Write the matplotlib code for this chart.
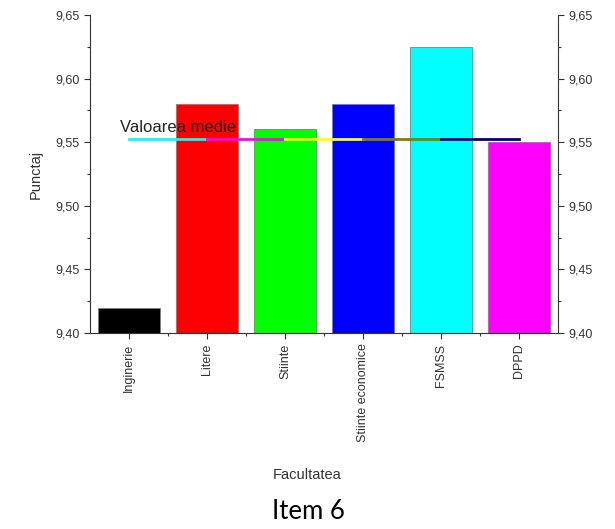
import matplotlib.pyplot as plt
import numpy as np
from matplotlib.ticker import FuncFormatter, MultipleLocator, FixedLocator

plt.rcParams['font.family'] = ['Liberation Sans', 'DejaVu Sans']

facultati = ['Inginerie', 'Litere', 'Stiinte', 'Stiinte economice', 'FSMSS', 'DPPD']
punctaj = [9.42, 9.58, 9.56, 9.58, 9.625, 9.55]
culori = ['black', 'red', '#00ff00', 'blue', 'cyan', 'magenta']
culori_medie = ['cyan', 'magenta', 'yellow', '#808000', '#000080']

x = np.arange(1, len(facultati) + 1)
medie = np.mean(punctaj)

fig = plt.figure(figsize=(6.15, 5.29), dpi=100)
ax = fig.add_axes([0.1463, 0.3705, 0.7610, 0.6011])

ax.bar(x, np.array(punctaj) - 9.40, bottom=9.40, width=0.8, color=culori,
       edgecolor='#808080', linewidth=0.6, zorder=2)

# linia mediei, pe segmente colorate
for i in range(len(x) - 1):
    ax.plot([x[i], x[i + 1]], [medie, medie], color=culori_medie[i], lw=2, zorder=3)
ax.text(0.88, medie + 0.0055, 'Valoarea medie', fontsize=12, color='#222222', zorder=4)

ax.set_xlim(0.5, 6.5)
ax.set_ylim(9.40, 9.65)
ax.set_xticks(x)
ax.set_xticklabels(facultati, rotation=90)
ax.xaxis.set_minor_locator(FixedLocator(np.arange(1.5, 6.5, 1)))

ax.yaxis.set_major_locator(MultipleLocator(0.05))
ax.yaxis.set_minor_locator(MultipleLocator(0.025))
fmt = FuncFormatter(lambda v, p: f'{v:.2f}'.replace('.', ','))
ax.yaxis.set_major_formatter(fmt)
ax.tick_params(axis='both', which='major', labelsize=9, length=4, width=0.8, colors='#333333', labelcolor='#333333')
ax.tick_params(axis='both', which='minor', length=2.5, width=0.8, colors='#333333')
ax.tick_params(axis='y', right=True, labelright=True, which='both')

ax.spines['top'].set_visible(False)
for s in ['left', 'right', 'bottom']:
    ax.spines[s].set_color('#333333')
    ax.spines[s].set_linewidth(0.8)

ax.set_ylabel('Punctaj', fontsize=10.5, color='#333333', labelpad=9)
fig.text(0.50, 0.102, 'Facultatea', fontsize=10.5, color='#333333', ha='center', va='center')
fig.text(0.502, 0.034, 'Item 6', fontsize=18.5, family=['Lato', 'DejaVu Sans'], ha='center', va='center')

fig.savefig('out.png', dpi=100)
